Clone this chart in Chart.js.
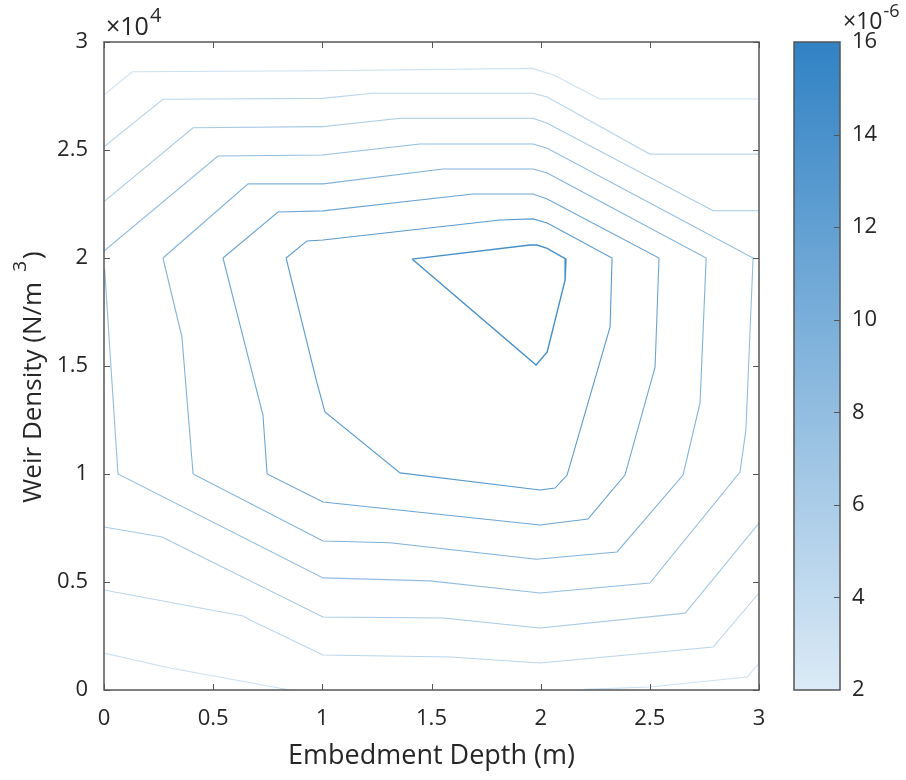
<!DOCTYPE html>
<html>
<head>
<meta charset="utf-8">
<script src="https://cdn.jsdelivr.net/npm/chart.js@4.4.1/dist/chart.umd.min.js"></script>
<style>
  body { margin: 0; background: #fff; }
  #wrap { position: relative; width: 906px; height: 780px; }
  canvas { position: absolute; top: 0; }
  #plot { left: 0; }
  #cbar { left: 780px; }
</style>
</head>
<body>
<div id="wrap">
  <canvas id="plot" width="780" height="780"></canvas>
  <canvas id="cbar" width="126" height="780"></canvas>
</div>
<script>
// contour lines, x = embedment depth (m), y = weir density in units of 1e4 N/m^3
const lineA = [[0,2.755],[0.13,2.862],[1,2.867],[1.96,2.878],[2.06,2.847],[2.27,2.736],[3,2.736]];
const lineB = [[0,2.515],[0.27,2.735],[1,2.739],[1.23,2.763],[1.965,2.763],[2.03,2.745],[2.5,2.481],[3,2.481]];
const lineC = [[0,2.261],[0.408,2.603],[1,2.608],[1.356,2.647],[1.965,2.647],[2.03,2.624],[2.79,2.219],[3,2.219]];
const lineD = [[0,2.032],[0.522,2.472],[1,2.477],[1.447,2.528],[1.965,2.528],[2.03,2.508],[2.973,2.0],
               [2.94,1.204],[2.913,1.009],[2.5,0.495],[1.997,0.449],[1.493,0.505],[1.003,0.519],
               [0.064,1.0],[0.014,1.773],[0.003,1.95]];
const lineE = [[0.27,2.0],[0.66,2.343],[1.003,2.343],[1.553,2.412],[1.965,2.412],[2.03,2.394],[2.758,2.0],
               [2.73,1.329],[2.652,0.995],[2.35,0.639],[1.98,0.605],[1.31,0.682],[1.003,0.69],
               [0.408,1.0],[0.357,1.634],[0.27,2.0]];
const lineF = [[0.545,2.0],[0.797,2.213],[1.003,2.218],[1.69,2.296],[1.965,2.296],[2.03,2.273],[2.542,2.0],
               [2.524,1.495],[2.386,0.995],[2.217,0.792],[1.997,0.764],[1.003,0.87],[0.747,1.0],
               [0.728,1.273],[0.545,2.0]];
const lineG = [[0.834,2.0],[0.93,2.079],[1.003,2.083],[1.814,2.176],[1.965,2.181],[2.03,2.162],[2.327,2.0],
               [2.318,1.681],[2.121,0.995],[2.066,0.935],[1.997,0.926],[1.356,1.005],[1.012,1.287],
               [0.976,1.42],[0.834,2.0]];
const lineH = [[1.411,1.995],[1.951,2.06],[1.983,2.06],[2.03,2.045],[2.116,1.995],[2.112,1.898],
               [2.03,1.565],[1.979,1.505],[1.411,1.995]];
const lineI = [[0,0.755],[0.266,0.708],[0.293,0.694],[1.003,0.338],[1.553,0.333],[1.997,0.287],
               [2.662,0.356],[3,0.773]];
const lineJ = [[0,0.463],[0.637,0.343],[0.669,0.324],[1.003,0.162],[1.585,0.153],[1.997,0.125],
               [2.79,0.199],[3,0.449]];
const lineK1 = [[0,0.171],[0.302,0.102],[0.852,0]];
const lineK2 = [[2.2,0.003],[2.5,0.014],[2.946,0.06],[3,0.125]];

// level (x1e-6) of each line
const contours = [
  {pts: lineA, level: 3.2}, {pts: lineK1, level: 3.2}, {pts: lineK2, level: 3.2},
  {pts: lineB, level: 4.8}, {pts: lineJ, level: 4.8},
  {pts: lineC, level: 6.4}, {pts: lineI, level: 6.4},
  {pts: lineD, level: 8.0},
  {pts: lineE, level: 9.6},
  {pts: lineF, level: 11.2},
  {pts: lineG, level: 12.8},
  {pts: lineH, level: 14.4}
];

const xTickValues = [0, 0.5, 1, 1.5, 2, 2.5, 3];
const yTickValues = [0, 0.5, 1, 1.5, 2, 2.5, 3];
const cbTickValues = [2, 4, 6, 8, 10, 12, 14, 16];
const cbMin = 2, cbMax = 16;

const lowColor = [219, 234, 246];
const highColor = [49, 130, 196];
const textColor = '#262626';
const axisColor = '#555555';
const fontFamily = '"Open Sans", sans-serif';

const levelColor = (v) => {
  const t = Math.max(0, Math.min(1, (v - cbMin) / (cbMax - cbMin)));
  const c = lowColor.map((lo, i) => Math.round(lo + (highColor[i] - lo) * t));
  return `rgb(${c[0]},${c[1]},${c[2]})`;
};

Chart.defaults.font.family = fontFamily;
Chart.defaults.color = textColor;

const drawTicksIn = (ctx, scale, values, from, dir, horizontal) => {
  values.forEach(v => {
    const p = Math.round(scale.getPixelForValue(v)) + 0.5;
    if (horizontal) { ctx.moveTo(p, from); ctx.lineTo(p, from + dir * 6); }
    else { ctx.moveTo(from, p); ctx.lineTo(from + dir * 6, p); }
  });
};

// text with a raised exponent, e.g. x10^4
const drawPower = (ctx, base, exp, x, y, size, expSize, rise) => {
  ctx.font = `${size}px ${fontFamily}`;
  ctx.fillText(base, x, y);
  const w = ctx.measureText(base).width;
  ctx.font = `${expSize}px ${fontFamily}`;
  ctx.fillText(exp, x + w + 1, y - rise);
};

const framePlugin = {
  id: 'frame',
  afterDatasetsDraw(chart) {
    const {ctx, chartArea: a, scales} = chart;
    ctx.save();
    ctx.strokeStyle = axisColor;
    ctx.lineWidth = 1.5;
    ctx.strokeRect(a.left, a.top, a.right - a.left, a.bottom - a.top);
    ctx.lineWidth = 1;
    ctx.beginPath();
    drawTicksIn(ctx, scales.x, xTickValues, a.bottom, -1, true);
    drawTicksIn(ctx, scales.x, xTickValues, a.top, 1, true);
    drawTicksIn(ctx, scales.y, yTickValues, a.left, 1, false);
    drawTicksIn(ctx, scales.y, yTickValues, a.right, -1, false);
    ctx.stroke();
    ctx.fillStyle = textColor;
    ctx.textBaseline = 'alphabetic';
    drawPower(ctx, '\u00d710', '4', a.left + 2, a.top - 7, 25, 20, 13);

    // y axis title with superscript
    const main = 'Weir Density (N/m', sup = '3', close = ')';
    ctx.font = `26px ${fontFamily}`;
    const w1 = ctx.measureText(main).width, w3 = ctx.measureText(close).width;
    ctx.font = `19px ${fontFamily}`;
    const w2 = ctx.measureText(sup).width;
    const gap = 10;
    const total = w1 + gap + w2 + 2 + w3;
    ctx.translate(41, 377);
    ctx.rotate(-Math.PI / 2);
    let x0 = -total / 2;
    ctx.font = `26px ${fontFamily}`;
    ctx.fillText(main, x0, 0);
    ctx.font = `19px ${fontFamily}`;
    ctx.fillText(sup, x0 + w1 + gap, -15);
    ctx.font = `26px ${fontFamily}`;
    ctx.fillText(close, x0 + w1 + gap + w2 + 2, 0);
    ctx.restore();
  }
};

new Chart(document.getElementById('plot'), {
  type: 'scatter',
  data: {
    datasets: contours.map(c => ({
      data: c.pts.map(p => ({x: p[0], y: p[1]})),
      showLine: true,
      borderColor: levelColor(c.level),
      borderWidth: c.level > 14 ? 1.4 : 1.1,
      pointRadius: 0,
      tension: 0,
      fill: false
    }))
  },
  options: {
    responsive: false,
    animation: false,
    layout: {padding: {left: 0, right: 21, top: 42, bottom: 0}},
    plugins: {legend: {display: false}, tooltip: {enabled: false}},
    scales: {
      x: {
        type: 'linear', min: 0, max: 3,
        afterBuildTicks: s => { s.ticks = xTickValues.map(v => ({value: v})); },
        afterFit: s => { s.height = 90; s.paddingLeft = 0; s.paddingRight = 0; },
        grid: {display: false, drawTicks: false},
        border: {display: false},
        ticks: {font: {size: 22}, padding: 16, color: textColor, callback: v => `${v}`},
        title: {display: true, text: 'Embedment Depth (m)', font: {size: 27}, padding: {bottom: 7}, color: textColor}
      },
      y: {
        type: 'linear', min: 0, max: 3,
        afterBuildTicks: s => { s.ticks = yTickValues.map(v => ({value: v})); },
        afterFit: s => { s.width = 104; s.paddingTop = 0; s.paddingBottom = 0; },
        grid: {display: false, drawTicks: false},
        border: {display: false},
        ticks: {font: {size: 22}, padding: 16, color: textColor, callback: v => `${v}`},
        title: {display: false}
      }
    }
  },
  plugins: [framePlugin]
});

const cbarPlugin = {
  id: 'cbframe',
  afterDatasetsDraw(chart) {
    const {ctx, chartArea: a, scales} = chart;
    ctx.save();
    ctx.strokeStyle = axisColor;
    ctx.lineWidth = 1.5;
    ctx.strokeRect(a.left, a.top, a.right - a.left, a.bottom - a.top);
    ctx.lineWidth = 1;
    ctx.beginPath();
    drawTicksIn(ctx, scales.y, cbTickValues.slice(1, -1), a.right, -1, false);
    ctx.stroke();
    ctx.fillStyle = textColor;
    ctx.textBaseline = 'alphabetic';
    drawPower(ctx, '\u00d710', '-6', a.right + 3, a.top - 13, 23, 18, 12);
    ctx.restore();
  }
};

new Chart(document.getElementById('cbar'), {
  type: 'bar',
  data: {
    labels: [''],
    datasets: [{
      data: [[cbMin, cbMax]],
      barPercentage: 1,
      categoryPercentage: 1,
      borderWidth: 0,
      backgroundColor: (ctx) => {
        const chart = ctx.chart;
        const y = chart.scales.y;
        if (!chart.chartArea || !y) return levelColor(9);
        const g = chart.ctx.createLinearGradient(0, y.getPixelForValue(cbMin), 0, y.getPixelForValue(cbMax));
        g.addColorStop(0, levelColor(cbMin));
        g.addColorStop(1, levelColor(cbMax));
        return g;
      }
    }]
  },
  options: {
    responsive: false,
    animation: false,
    layout: {padding: {left: 14, right: 0, top: 42, bottom: 90}},
    plugins: {legend: {display: false}, tooltip: {enabled: false}},
    scales: {
      x: {display: false},
      y: {
        position: 'right',
        min: cbMin, max: cbMax,
        afterBuildTicks: s => { s.ticks = cbTickValues.map(v => ({value: v})); },
        afterFit: s => { s.width = 66; },
        grid: {display: false, drawTicks: false},
        border: {display: false},
        ticks: {font: {size: 22}, padding: 12, color: textColor}
      }
    }
  },
  plugins: [cbarPlugin]
});
</script>
</body>
</html>
